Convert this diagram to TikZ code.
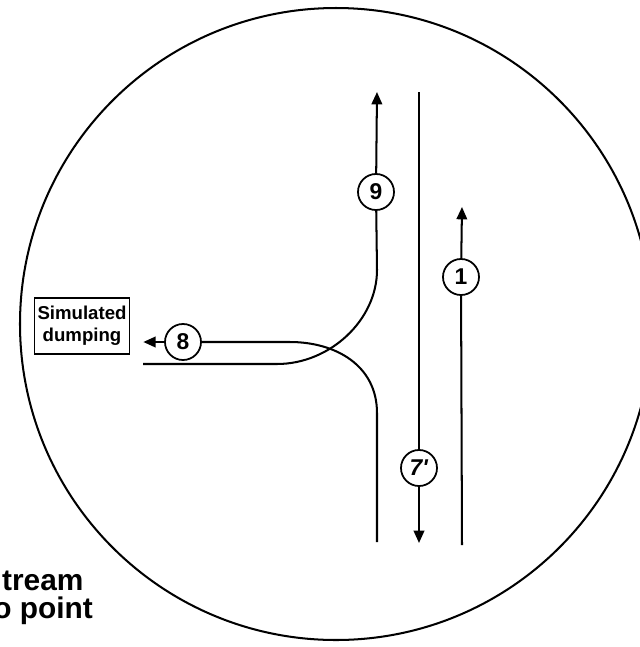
\documentclass[tikz,border=0pt]{standalone}
\usepackage{fontspec}
\setmainfont{Liberation Sans}
\usetikzlibrary{positioning, arrows.meta}
\tikzset{
  flowline/.style  = {draw=black, line width=1.15pt},
  flowarrow/.style = {flowline, -{Triangle[length=7pt, width=6pt]}},
  streamno/.style  = {circle, draw=black, fill=white, line width=1pt,
                      minimum size=20.5pt, inner sep=0pt,
                      font=\bfseries\fontsize{13}{13}\selectfont},
  dumpbox/.style   = {rectangle, draw=black, line width=1pt, align=center,
                      minimum width=54pt, minimum height=32pt, inner sep=1pt,
                      font=\bfseries\fontsize{10.6}{12.5}\selectfont},
  zonelabel/.style = {align=left, inner sep=0pt,
                      font=\bfseries\fontsize{17}{16}\selectfont}
}

\begin{document}
\begin{tikzpicture}[x=0.02cm, y=-0.02cm]
\useasboundingbox (0,0) rectangle (640,647);

% mixing zone
\draw[flowline] (336,324) circle[radius=316];
\node[zonelabel, anchor=north west] (zone) at (-7,571) {\hspace*{5pt}tream\\o point};

% numbered streams
\node[streamno] (c9) at (376,192) {9};
\node[streamno] (c1) at (461,277) {1};
\node[streamno] (c8) at (183,342) {8};
\node[streamno] (c7) at (419,468) {\textit{7\textquotesingle}};
\node[dumpbox]  (dump) at (82,326) {Simulated\\dumping};

\coordinate (s9start) at (143,364);
\coordinate (s9bend)  at (277,364);
\coordinate (s9up)    at (377,270);
\coordinate (s9tip)   at (377,92);
\coordinate (s8start) at (377,542);
\coordinate (s8up)    at (377,413);
\coordinate (s8bend)  at (290,342);
\coordinate (s7top)   at (419,92);
\coordinate (s7tip)   at (419,543);
\coordinate (s1start) at (462,545);
\coordinate (s1tip)   at (462,207);

% stream 9
\draw[flowline] (s9start) -- (s9bend) .. controls +(53,0) and +(0,50) .. (s9up) -- (c9);
\draw[flowarrow] (c9) -- (s9tip);

% stream 8 to the dumping point
\draw[flowline] (s8start) -- (s8up) .. controls +(0,-48) and +(45,0) .. (s8bend) -- (c8);
\draw[flowarrow, shorten >=0.26cm] (c8.west) -- (c8.west -| dump.east);

% stream 7'
\draw[flowline] (s7top) -- (c7);
\draw[flowarrow] (c7) -- (s7tip);

% stream 1
\draw[flowline] (s1start) -- (c1);
\draw[flowarrow] (c1) -- (s1tip);
\end{tikzpicture}
\end{document}
